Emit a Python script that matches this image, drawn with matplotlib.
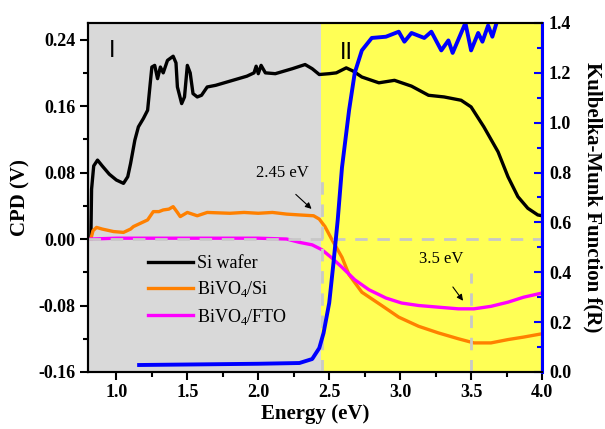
import matplotlib
matplotlib.use("Agg")
import matplotlib.pyplot as plt
from matplotlib.ticker import MultipleLocator

plt.rcParams["font.family"] = ["Liberation Serif", "DejaVu Serif"]
plt.rcParams["mathtext.fontset"] = "custom"
plt.rcParams["mathtext.rm"] = "Liberation Serif"

# CPD curves (left axis)
si_x = [0.82, 0.825, 0.84, 0.867, 0.90, 0.95, 1.00, 1.05, 1.08, 1.10, 1.13, 1.155,
        1.19, 1.22, 1.24, 1.25, 1.27, 1.29, 1.31, 1.33, 1.34, 1.36, 1.40, 1.42,
        1.43, 1.46, 1.48, 1.50, 1.52, 1.54, 1.57, 1.60, 1.64, 1.70, 1.82, 1.92,
        1.97, 1.985, 2.00, 2.02, 2.05, 2.12, 2.24, 2.33, 2.38, 2.43, 2.50, 2.55,
        2.62, 2.67, 2.73, 2.85, 2.96, 3.08, 3.20, 3.31, 3.43, 3.50, 3.59, 3.69,
        3.76, 3.83, 3.90, 3.97, 4.00]
si_y = [0.000, 0.060, 0.088, 0.095, 0.088, 0.078, 0.071, 0.067, 0.075, 0.091, 0.119, 0.135,
        0.145, 0.155, 0.190, 0.207, 0.209, 0.193, 0.207, 0.200, 0.205, 0.215, 0.220, 0.212,
        0.183, 0.163, 0.171, 0.209, 0.200, 0.175, 0.171, 0.173, 0.183, 0.185, 0.191, 0.196,
        0.200, 0.208, 0.199, 0.209, 0.200, 0.199, 0.205, 0.210, 0.205, 0.198, 0.199, 0.200,
        0.206, 0.202, 0.195, 0.188, 0.191, 0.184, 0.173, 0.171, 0.167, 0.159, 0.135, 0.105,
        0.075, 0.051, 0.037, 0.029, 0.028]

bsi_x = [0.82, 0.835, 0.86, 0.90, 0.98, 1.05, 1.10, 1.12, 1.17, 1.22, 1.26, 1.30,
         1.33, 1.37, 1.40, 1.43, 1.45, 1.50, 1.57, 1.64, 1.80, 1.90, 2.00, 2.10,
         2.20, 2.29, 2.39, 2.43, 2.47, 2.52, 2.59, 2.64, 2.73, 2.87, 2.99, 3.13,
         3.27, 3.41, 3.52, 3.64, 3.76, 3.87, 4.00]
bsi_y = [0.000, 0.010, 0.014, 0.012, 0.009, 0.008, 0.012, 0.015, 0.019, 0.023, 0.033, 0.033,
         0.035, 0.036, 0.039, 0.032, 0.027, 0.032, 0.028, 0.032, 0.031, 0.032, 0.031, 0.032,
         0.030, 0.029, 0.028, 0.024, 0.015, -0.001, -0.022, -0.043, -0.064, -0.080, -0.094, -0.105,
         -0.113, -0.120, -0.125, -0.125, -0.121, -0.118, -0.114]

fto_x = [0.82, 1.00, 1.50, 2.00, 2.20, 2.29, 2.38, 2.45, 2.52, 2.59, 2.68, 2.78,
         2.90, 3.01, 3.13, 3.27, 3.41, 3.52, 3.64, 3.76, 3.87, 4.00]
fto_y = [0.000, 0.001, 0.001, 0.001, 0.000, -0.004, -0.007, -0.013, -0.023, -0.034, -0.049, -0.061,
         -0.071, -0.077, -0.080, -0.082, -0.084, -0.084, -0.081, -0.076, -0.070, -0.065]

# Kubelka-Munk (right axis)
km_x = [1.16, 1.50, 2.00, 2.29, 2.38, 2.43, 2.46, 2.50, 2.53, 2.56, 2.59, 2.64,
        2.68, 2.73, 2.80, 2.90, 2.99, 3.03, 3.08, 3.17, 3.22, 3.29, 3.34, 3.37,
        3.43, 3.46, 3.50, 3.55, 3.58, 3.62, 3.65, 3.69]
km_y = [0.028, 0.030, 0.033, 0.036, 0.052, 0.096, 0.156, 0.277, 0.437, 0.610, 0.820, 1.050,
        1.200, 1.290, 1.340, 1.345, 1.365, 1.325, 1.360, 1.340, 1.365, 1.290, 1.330, 1.280,
        1.360, 1.400, 1.290, 1.360, 1.325, 1.390, 1.345, 1.420]

gap_bivo4 = 2.45
gap_fto = 3.5

fig = plt.figure(figsize=(6.05, 4.29), dpi=100)
ax = fig.add_axes([0.1455, 0.1329, 0.7504, 0.8135])
ax2 = ax.twinx()

ax.axvspan(0.8, gap_bivo4 - 0.01, color="#d9d9d9", zorder=0, lw=0)
ax.axvspan(gap_bivo4 - 0.01, 4.0, color="#ffff55", zorder=0, lw=0)

ax.plot(si_x, si_y, color="black", lw=2.4, label="Si wafer", zorder=3)
ax.plot(bsi_x, bsi_y, color="#ff8000", lw=2.4, label=r"BiVO$_\mathrm{4}$/Si", zorder=3)
ax.plot(fto_x, fto_y, color="#ff00ff", lw=2.4, label=r"BiVO$_\mathrm{4}$/FTO", zorder=3)

dash = (0, (4.5, 3.5))
ax.axhline(0, color="#c8c8c8", lw=2, ls=dash, zorder=4)
ax.plot([gap_bivo4, gap_bivo4], [-0.16, 0.073], color="#c8c8c8", lw=2, ls=dash, zorder=4)
ax.plot([gap_fto, gap_fto], [-0.16, -0.041], color="#c8c8c8", lw=2, ls=dash, zorder=4)

ax.text(2.17, 0.080, "2.45 eV", fontsize=12, ha="center", va="center")
ax.annotate("", xy=(2.39, 0.034), xytext=(2.25, 0.056),
            arrowprops=dict(arrowstyle="-|>", color="black", lw=0.8, mutation_scale=9))
ax.text(3.29, -0.024, "3.5 eV", fontsize=12, ha="center", va="center")
ax.annotate("", xy=(3.455, -0.077), xytext=(3.36, -0.055),
            arrowprops=dict(arrowstyle="-|>", color="black", lw=0.8, mutation_scale=9))

ax.text(0.97, 0.226, "I", fontsize=17, family="Liberation Sans", ha="center", va="center")
ax.text(2.62, 0.224, "II", fontsize=17, family="Liberation Sans", ha="center", va="center")

ax2.plot(km_x, km_y, color="#0000ff", lw=2.8)

ax.set_xlim(0.8, 4.0)
ax.set_ylim(-0.16, 0.26)
ax2.set_ylim(0, 1.4)

ax.xaxis.set_major_locator(MultipleLocator(0.5))
ax.xaxis.set_minor_locator(MultipleLocator(0.25))
ax.yaxis.set_major_locator(MultipleLocator(0.08))
ax.yaxis.set_minor_locator(MultipleLocator(0.04))
ax2.yaxis.set_major_locator(MultipleLocator(0.2))
ax2.yaxis.set_minor_locator(MultipleLocator(0.1))
ax.yaxis.set_major_formatter(plt.FormatStrFormatter("%.2f"))
ax.xaxis.set_major_formatter(plt.FormatStrFormatter("%.1f"))
ax2.yaxis.set_major_formatter(plt.FormatStrFormatter("%.1f"))

ax.tick_params(axis="both", which="major", direction="out", length=6, width=1.5,
               labelsize=13, pad=3)
ax.tick_params(axis="both", which="minor", direction="out", length=3.5, width=1.5)
ax.tick_params(top=False, right=False, which="both")
ax2.tick_params(axis="y", which="major", direction="in", length=6, width=1.5,
                color="#0000ff", labelsize=13, pad=5)
ax2.tick_params(axis="y", which="minor", direction="in", length=3.5, width=1.5,
                color="#0000ff")
for lab in ax.get_xticklabels() + ax.get_yticklabels() + ax2.get_yticklabels():
    lab.set_fontweight("bold")

for s in ax.spines.values():
    s.set_linewidth(1.5)
for s in ax2.spines.values():
    s.set_linewidth(1.5)
ax2.spines["right"].set_color("#0000ff")
ax2.spines["right"].set_linewidth(2.2)

ax.set_xlabel("Energy (eV)", fontsize=15, fontweight="bold", labelpad=2)
ax.set_ylabel("CPD (V)", fontsize=15, fontweight="bold", labelpad=6)
ax2.set_ylabel("Kulbelka-Munk Function f(R)", fontsize=15, fontweight="bold",
               rotation=270, va="bottom", labelpad=8)

ax.legend(loc="upper left", bbox_to_anchor=(0.132, 0.335), frameon=False,
          fontsize=13, handlelength=2.5, handletextpad=0.2, labelspacing=0.4,
          borderpad=0, borderaxespad=0)

fig.savefig("out.png", dpi=100)
